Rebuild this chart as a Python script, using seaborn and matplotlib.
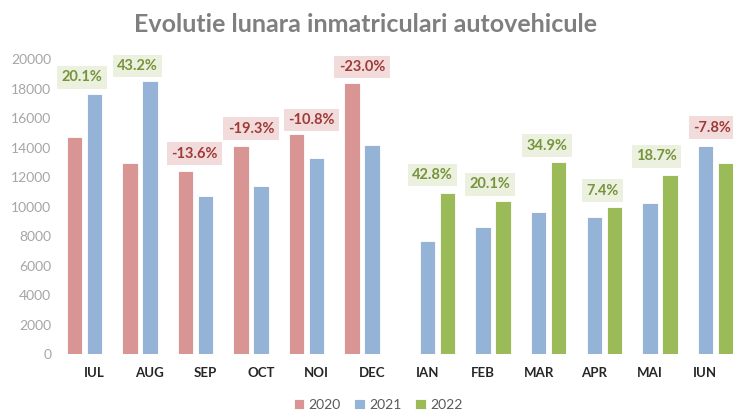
import numpy as np
import pandas as pd
import matplotlib
matplotlib.use("Agg")
import matplotlib.pyplot as plt
import seaborn as sns

months = ["IUL", "AUG", "SEP", "OCT", "NOI", "DEC", "IAN", "FEB", "MAR", "APR", "MAI", "IUN"]
years = ["2020", "2021", "2022"]
v2020 = [14700, 12930, 12410, 14080, 14920, 18370, np.nan, np.nan, np.nan, np.nan, np.nan, np.nan]
v2021 = [17630, 18500, 10720, 11370, 13290, 14150, 7650, 8600, 9650, 9300, 10220, 14080]
v2022 = [np.nan, np.nan, np.nan, np.nan, np.nan, np.nan, 10900, 10360, 13020, 9970, 12120, 12980]
pct_labels = ["20.1%", "43.2%", "-13.6%", "-19.3%", "-10.8%", "-23.0%",
              "42.8%", "20.1%", "34.9%", "7.4%", "18.7%", "-7.8%"]
# label placement (x offset within category, y height in data units)
label_dx = [-0.22, -0.22, -0.2, -0.18, -0.085, -0.18, 0.09, 0.126, 0.144, 0.15, 0.117, 0.117]
label_y = [18770, 19530, 13600, 15280, 15870, 19460, 12140, 11510, 14120, 11090, 13410, 15350]

colors = {"2020": "#D99594", "2021": "#95B3D7", "2022": "#9BBB59"}

rows = []
for vals, yr in zip([v2020, v2021, v2022], years):
    for m, v in zip(months, vals):
        if not np.isnan(v):
            rows.append({"month": m, "year": yr, "value": v})
df = pd.DataFrame(rows)

sns.set_theme(style="white")
plt.rcParams["font.family"] = ["Lato", "DejaVu Sans"]

fig = plt.figure(figsize=(7.33, 4.12), dpi=100)
ax = fig.add_axes([0.0907, 0.140, 0.9095, 0.7167])

sns.barplot(data=df, x="month", y="value", hue="year", order=months, hue_order=years,
            palette=colors, width=1.08, gap=0.225, ax=ax, legend=True,
            edgecolor="white", linewidth=0.6, saturation=1)

ax.set_xlim(-0.5, 11.5)
ax.set_ylim(0, 20000)
ax.set_yticks(np.arange(0, 20001, 2000))
ax.set_xlabel("")
ax.set_ylabel("")
for s in ax.spines.values():
    s.set_visible(False)
ax.tick_params(axis="y", length=0, pad=11, labelsize=10, labelcolor="#A6A6A6")
ax.tick_params(axis="x", length=0, pad=9, labelsize=9.5, labelcolor="#262626")
for lab in ax.get_xticklabels():
    lab.set_fontweight("bold")
ax.grid(False)

for i, (txt, dx, yv) in enumerate(zip(pct_labels, label_dx, label_y)):
    neg = txt.startswith("-")
    fc = "#F2DCDB" if neg else "#EBF1DE"
    tc = "#A03A37" if neg else "#77933C"
    ax.text(i + dx, yv, txt, ha="center", va="center", fontsize=10.5, fontweight="bold",
            color=tc, bbox=dict(boxstyle="square,pad=0.3", fc=fc, ec="none"), clip_on=False)

leg = ax.get_legend()
handles, labels = ax.get_legend_handles_labels()
leg.remove()
fig.legend(handles, labels, loc="center", bbox_to_anchor=(378 / 733, 1 - 405 / 412), ncol=3,
           frameon=False, fontsize=10, labelcolor="#595959", handlelength=0.75, handleheight=0.75,
           handletextpad=0.3, columnspacing=1.0, borderaxespad=0)

fig.text(366 / 733, 1 - 24 / 412, "Evolutie lunara inmatriculari autovehicule", ha="center", va="center",
         fontsize=18, fontweight="bold", color="#7F7F7F")

fig.savefig("out.png", dpi=100)
